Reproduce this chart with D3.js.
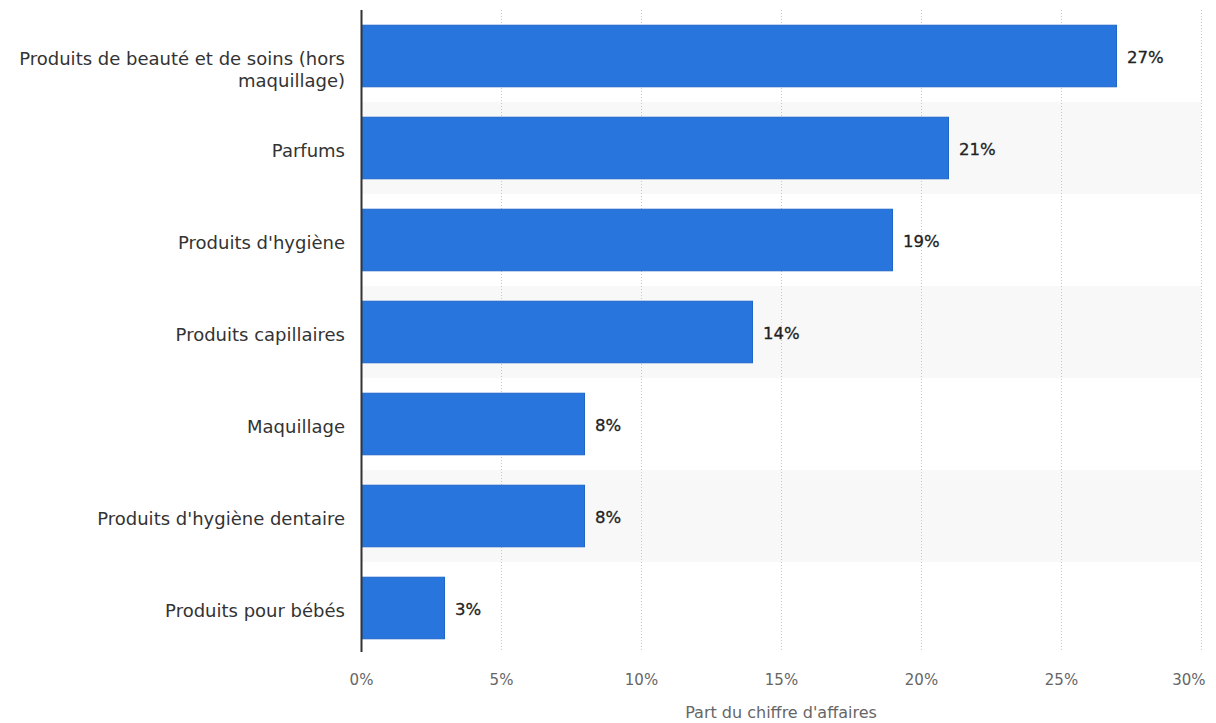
<!DOCTYPE html>
<html>
<head>
<meta charset="utf-8">
<script src="https://cdn.jsdelivr.net/npm/d3@7"></script>
<style>
  body { margin: 0; background: #fff; }
  text { font-family: "DejaVu Sans", sans-serif; }
</style>
</head>
<body>
<div id="chart"></div>
<script>
  // Chart data
  var categories = [
    ['Produits de beauté et de soins (hors', 'maquillage)'],
    ['Parfums'],
    ["Produits d'hygiène"],
    ['Produits capillaires'],
    ['Maquillage'],
    ["Produits d'hygiène dentaire"],
    ['Produits pour bébés']
  ];
  var values = [27, 21, 19, 14, 8, 8, 3];
  var xTicks = [0, 5, 10, 15, 20, 25, 30];
  var xTitle = "Part du chiffre d'affaires";

  // Layout
  var outerWidth = 1216;
  var outerHeight = 723;
  var margin = {top: 10, right: 14, bottom: 69, left: 361};
  var innerWidth = outerWidth - margin.left - margin.right;
  var innerHeight = outerHeight - margin.top - margin.bottom;

  var svg = d3.select('#chart').append('svg')
    .attr('width', outerWidth)
    .attr('height', outerHeight);

  var g = svg.append('g')
    .attr('transform', 'translate(' + margin.left + ',' + margin.top + ')');

  var ids = d3.range(values.length);

  var x = d3.scaleLinear().domain([0, 30]).range([0, 840]);
  var y = d3.scaleBand().domain(ids).range([0, innerHeight]).paddingInner(0.32).paddingOuter(0.16);
  var rows = d3.scaleBand().domain(ids).range([0, innerHeight]);

  // Alternating row backgrounds
  g.selectAll('.row')
    .data(ids.filter(function(i) { return i % 2 === 1; }))
    .enter().append('rect')
      .attr('class', 'row')
      .attr('x', 0)
      .attr('y', function(i) { return rows(i); })
      .attr('width', x(30))
      .attr('height', rows.bandwidth())
      .style('fill', '#f8f8f8');

  // Dotted grid lines
  g.selectAll('.grid')
    .data(xTicks.slice(1))
    .enter().append('line')
      .attr('class', 'grid')
      .attr('x1', function(d) { return x(d) + 0.5; })
      .attr('x2', function(d) { return x(d) + 0.5; })
      .attr('y1', 0)
      .attr('y2', innerHeight - 2)
      .style('stroke', '#c8c8c8')
      .style('stroke-width', 1)
      .style('stroke-dasharray', '1,2');

  // Bars
  g.selectAll('.bar')
    .data(values)
    .enter().append('rect')
      .attr('class', 'bar')
      .attr('x', 0.5)
      .attr('y', function(d, i) { return y(i) + 0.5; })
      .attr('width', function(d) { return x(d) - 1; })
      .attr('height', y.bandwidth() - 1)
      .style('fill', '#2876dd')
      .style('stroke', '#1f66c9')
      .style('stroke-width', 1);

  // Value labels
  g.selectAll('.val')
    .data(values)
    .enter().append('text')
      .attr('class', 'val')
      .attr('x', function(d) { return x(d) + 10; })
      .attr('y', function(d, i) { return y(i) + y.bandwidth() / 2; })
      .attr('dy', '0.4em')
      .style('font-size', '16.5px')
      .style('fill', '#222')
      .style('stroke', '#222')
      .style('stroke-width', 0.3)
      .text(function(d) { return d + '%'; });

  // Category labels (wrapped lines continue below the first one)
  var cat = g.selectAll('.cat')
    .data(categories)
    .enter().append('text')
      .attr('class', 'cat')
      .attr('text-anchor', 'end')
      .attr('x', -16)
      .attr('y', function(d, i) { return y(i) + y.bandwidth() / 2 + 2; })
      .style('font-size', '18px')
      .style('fill', '#333');

  cat.selectAll('tspan')
    .data(function(d) { return d; })
    .enter().append('tspan')
      .attr('x', -16)
      .attr('dy', function(d, i) { return i === 0 ? '0.4em' : '22px'; })
      .text(function(d) { return d; });

  // X axis tick labels
  var xAxis = g.append('g')
    .attr('transform', 'translate(0,' + innerHeight + ')')
    .call(d3.axisBottom(x).tickValues(xTicks).tickSize(0).tickPadding(20)
      .tickFormat(function(d) { return d + '%'; }));
  xAxis.select('.domain').remove();
  xAxis.selectAll('text')
    .style('font-family', '"DejaVu Sans", sans-serif')
    .style('font-size', '15px')
    .style('fill', '#666');
  xAxis.selectAll('.tick').filter(function(d) { return d === 30; })
    .select('text').attr('text-anchor', 'end').attr('dx', '4');

  // Y axis line
  g.append('line')
    .attr('x1', 0.5).attr('x2', 0.5)
    .attr('y1', 0).attr('y2', innerHeight - 2)
    .style('stroke', '#333')
    .style('stroke-width', 2);

  // Axis title
  g.append('text')
    .attr('x', x(15))
    .attr('y', innerHeight + 64)
    .attr('text-anchor', 'middle')
    .style('font-size', '16px')
    .style('fill', '#666')
    .text(xTitle);
</script>
</body>
</html>
